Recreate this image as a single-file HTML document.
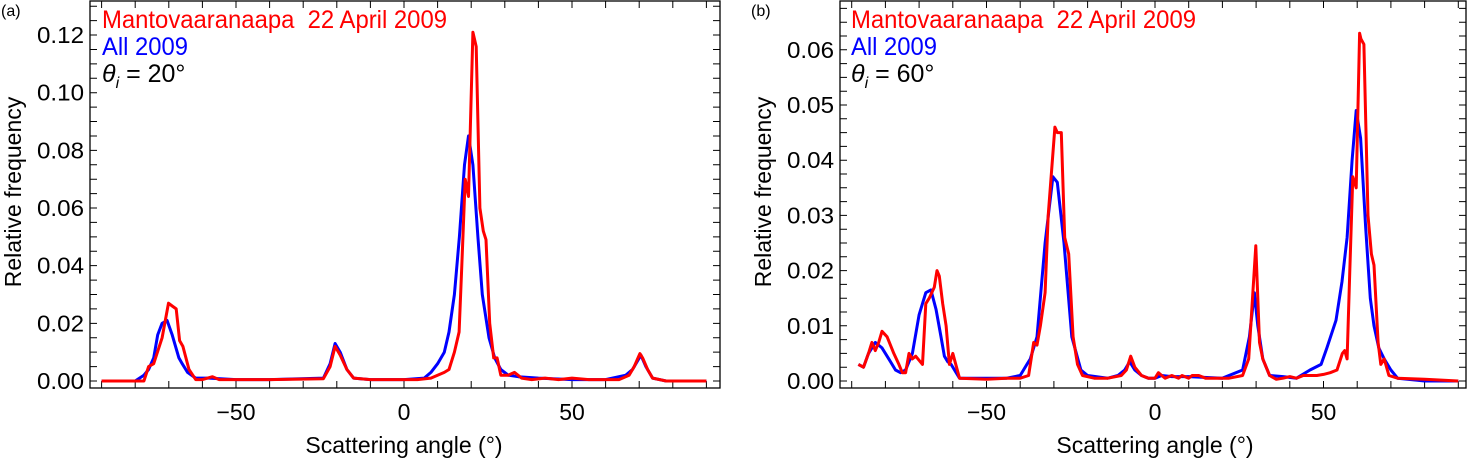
<!DOCTYPE html>
<html><head><meta charset="utf-8"><style>
body{margin:0;background:#fff;width:1468px;height:460px;overflow:hidden}
svg{display:block;font-family:"Liberation Sans",sans-serif}
</style></head><body>
<svg id="chart" width="1468" height="460"></svg>
<script>
// Panel (a) data: theta_i = 20
const aRedX=[-90,-78,-77.4,-76,-74.5,-72,-70.1,-69,-67.8,-66.8,-65.8,-64,-62,-60,-57,-55,-40,-24,-22,-20.5,-19,-17,-15,-10,0,4,8,12,13.4,15,16.4,17.2,18.2,19.2,20.5,21.5,22.6,23.6,24.4,25.5,26.7,27.7,28.8,31,32.9,35,38,42,46,50,55,64,67,68.5,70.2,71,72.5,74,78,90];
const aRedY=[0,0,0,0.005,0.006,0.015,0.027,0.026,0.025,0.014,0.012,0.004,0.0005,0.0005,0.0015,0.0005,0.0005,0.0008,0.005,0.012,0.009,0.004,0.001,0.0005,0.0005,0.0005,0.001,0.003,0.004,0.01,0.017,0.04,0.07,0.064,0.121,0.116,0.06,0.052,0.049,0.02,0.008,0.008,0.002,0.002,0.003,0.001,0.0005,0.001,0.0005,0.001,0.0005,0.0005,0.002,0.005,0.0095,0.008,0.004,0.001,0,0];
const aBlueX=[-90,-80,-77.4,-76,-74.5,-73.3,-72,-70.5,-69,-67,-66,-64.4,-62,-58,-50,-40,-24,-22,-20.5,-19,-17,-15,-10,0,6,8,10,12,13.4,15,16.5,18,19.2,20.5,22,23.3,25.3,27,28.8,31,34,40,50,60,66,68,70.5,72,74,78,90];
const aBlueY=[0,0,0.002,0.004,0.008,0.016,0.02,0.021,0.016,0.008,0.006,0.003,0.001,0.001,0.0005,0.0005,0.001,0.006,0.013,0.01,0.004,0.001,0.0005,0.0005,0.001,0.003,0.006,0.01,0.017,0.03,0.05,0.075,0.085,0.075,0.05,0.03,0.015,0.008,0.004,0.002,0.0015,0.001,0.0005,0.0005,0.002,0.004,0.009,0.005,0.001,0,0];
// Panel (b) data: theta_i = 60
const bRedX=[-88,-86.5,-85,-84,-83,-82,-81,-79.5,-77.5,-76,-75,-74,-73,-72,-71,-69,-68,-67,-65.5,-64.7,-64,-63,-62,-61,-60,-58,-50,-44,-40,-37.5,-36,-35,-34,-32.6,-31.7,-29.7,-29,-27.8,-26.8,-25.6,-24.3,-23,-21.5,-18,-14,-10,-8.5,-7.2,-6,-4,-2,0,1,2,3,5,7,8,10,11,13,15,18,22,26,27.8,29.9,31,32,34,36,38,40,42,44,46,48,50,52,54,55.6,56.3,57,57.8,58.7,59.7,60.7,61.1,62,63.2,64.2,65,66.2,67,68,69.4,72,80,90];
const bRedY=[0.003,0.0025,0.005,0.007,0.0055,0.007,0.009,0.008,0.005,0.003,0.0015,0.0015,0.005,0.004,0.0045,0.003,0.014,0.015,0.017,0.02,0.019,0.014,0.01,0.003,0.005,0.0005,0.0003,0.0005,0.0005,0.001,0.007,0.0065,0.01,0.016,0.03,0.046,0.045,0.045,0.026,0.023,0.008,0.003,0.001,0.0005,0.0005,0.001,0.002,0.0045,0.0025,0.001,0.0005,0.0005,0.0015,0.001,0.0005,0.001,0.0005,0.001,0.0005,0.001,0.001,0.0005,0.0005,0.0005,0.001,0.004,0.0245,0.007,0.004,0.001,0.0003,0.0005,0.0008,0.0005,0.001,0.001,0.001,0.0012,0.0015,0.002,0.005,0.0055,0.004,0.02,0.037,0.035,0.063,0.062,0.061,0.03,0.023,0.021,0.007,0.003,0.004,0.001,0.0005,0.0003,0];
const bBlueX=[-88,-86.5,-85,-83,-81,-79,-77,-75.5,-74,-72,-70,-68,-66.5,-65,-63.5,-62.5,-61.5,-60.5,-58,-50,-44,-40,-38,-37,-35,-32.6,-30.3,-29,-27,-24.7,-22,-20,-14,-11,-9,-7.5,-6,-4,-2,0,2,5,10,20,26,28,29.5,30.5,32,34,38,42,46,49.3,51,53.7,55.5,57,58.5,59.7,61,62.5,63.9,65,66.4,68,70,72,80,90];
const bBlueY=[0.003,0.0025,0.005,0.007,0.006,0.004,0.002,0.0015,0.002,0.005,0.012,0.016,0.0165,0.013,0.008,0.0045,0.0035,0.003,0.0005,0.0005,0.0005,0.001,0.003,0.004,0.008,0.025,0.037,0.036,0.025,0.008,0.002,0.001,0.0005,0.001,0.002,0.0035,0.002,0.001,0.0005,0.0005,0.001,0.0008,0.0008,0.0005,0.002,0.008,0.016,0.01,0.004,0.001,0.0008,0.0005,0.002,0.003,0.006,0.011,0.018,0.026,0.04,0.049,0.044,0.028,0.015,0.01,0.006,0.004,0.002,0.0005,0,0];
const aYTicks=[0,0.02,0.04,0.06,0.08,0.10,0.12];
const aYLabels=["0.00","0.02","0.04","0.06","0.08","0.10","0.12"];
const bYTicks=[0,0.01,0.02,0.03,0.04,0.05,0.06];
const bYLabels=["0.00","0.01","0.02","0.03","0.04","0.05","0.06"];
const xTicks=[-50,0,50];
const xLabels=["\u221250","0","50"];

const NS="http://www.w3.org/2000/svg";
const svg=document.getElementById('chart');
function mk(tag,attrs,parent,text){const e=document.createElementNS(NS,tag);for(const k in attrs)e.setAttribute(k,attrs[k]);if(text!==undefined)e.textContent=text;(parent||svg).appendChild(e);return e;}

function panel(cfg){
  const g=mk('g',{});
  
  
  const L=cfg.left,R=cfg.right,T=1,B=388;
  const sx=v=>cfg.x0+v*cfg.xs;
  const sy=v=>381-v*cfg.ys;
  const frame=mk('rect',{x:L,y:T,width:R-L,height:B-T,fill:'none',stroke:'#000','stroke-width':1.3},g);
  
  
  for(let v=-90;v<=90;v+=10){
    const x=sx(v);
    const t=mk('path',{d:`M${x},${B}v-7M${x},${T}v7`,stroke:'#000','stroke-width':1},g);
    
    
  }
  xTicks.forEach((v,i)=>{
    const t=mk('text',{x:sx(v),y:420,'font-size':23,'text-anchor':'middle'},g,xLabels[i]);
    
    
  });
  for(let v=0;v<=cfg.yMax+1e-9;v+=cfg.yMinor){
    const y=sy(v);
    if(y<T+2)continue;
    const t=mk('path',{d:`M${L},${y}h7M${R},${y}h-7`,stroke:'#000','stroke-width':1},g);
    
    
  }
  cfg.yTicks.forEach((v,i)=>{
    const t=mk('text',{x:L-6,y:sy(v)+8,'font-size':23,'text-anchor':'end',textLength:47,lengthAdjust:'spacingAndGlyphs'},g,cfg.yLabels[i]);
    
    
  });
  const yt=mk('text',{x:0,y:0,'font-size':23,'text-anchor':'middle',transform:`translate(${cfg.ytX},192) rotate(-90)`},g,'Relative frequency');
  
  
  const xt=mk('text',{x:sx(0),y:453,'font-size':23,'text-anchor':'middle'},g,'Scattering angle (\u00b0)');
  
  
  const pl=mk('text',{x:cfg.labX,y:16,'font-size':16},g,cfg.label);
  
  
  const pts=(X,Y)=>X.map((x,i)=>sx(x).toFixed(1)+','+sy(Y[i]).toFixed(1)).join(' ');
  const bl=mk('polyline',{points:pts(cfg.blueX,cfg.blueY),fill:'none',stroke:'#0000ff','stroke-width':3,'stroke-linejoin':'round'},g);
  
  
  const rl=mk('polyline',{points:pts(cfg.redX,cfg.redY),fill:'none',stroke:'#ff0000','stroke-width':3,'stroke-linejoin':'round'},g);
  
  
  const l1=mk('text',{x:cfg.legX,y:28,'font-size':25,fill:'#ff0000',textLength:345,lengthAdjust:'spacingAndGlyphs'},g,'Mantovaaranaapa\u00a0\u00a022 April 2009');
  
  
  const l2=mk('text',{x:cfg.legX,y:55,'font-size':25,fill:'#0000ff',textLength:86,lengthAdjust:'spacingAndGlyphs'},g,'All 2009');
  
  
  const l3=mk('text',{x:cfg.legX,y:82,'font-size':25,fill:'#000'},g);
  
  
  mk('tspan',{'font-style':'italic'},l3,'\u03b8');
  mk('tspan',{'font-style':'italic','font-size':16,dy:6},l3,'i');
  mk('tspan',{dy:-6},l3,' = '+cfg.theta+'\u00b0');
}
panel({name:'panel-a',left:90,right:720,x0:404,xs:3.36,ys:2883,yMax:0.13,yMinor:0.005,yTicks:aYTicks,yLabels:aYLabels,ytX:21,labX:1,label:'(a)',legX:102,theta:20,redX:aRedX,redY:aRedY,blueX:aBlueX,blueY:aBlueY});
panel({name:'panel-b',left:840,right:1466,x0:1155,xs:3.37,ys:5520,yMax:0.069,yMinor:0.0025,yTicks:bYTicks,yLabels:bYLabels,ytX:771,labX:751,label:'(b)',legX:851,theta:60,redX:bRedX,redY:bRedY,blueX:bBlueX,blueY:bBlueY});
</script>
</body></html>
